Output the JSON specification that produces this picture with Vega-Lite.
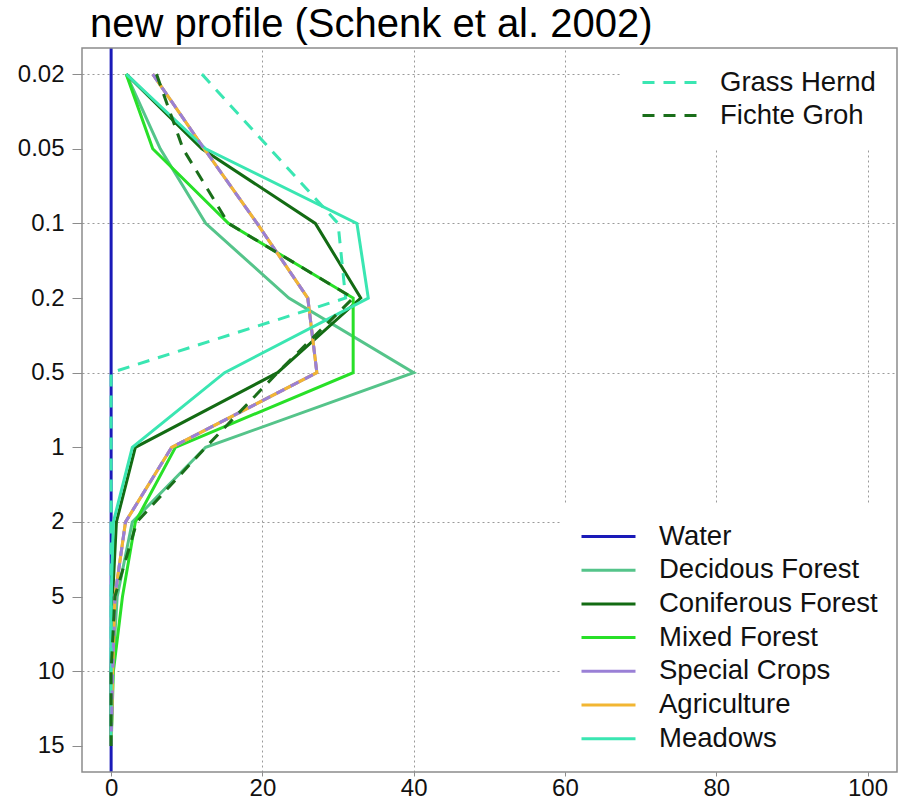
{
  "$schema": "https://vega.github.io/schema/vega-lite/v6.json",
  "autosize": {"type": "none"},
  "padding": {"left": 82, "top": 48, "right": 10, "bottom": 33},
  "width": 815,
  "height": 724,
  "title": {"text": "new profile (Schenk et al. 2002)", "anchor": "start", "frame": "group", "dx": 8, "offset": 2, "fontSize": 40, "font": "Liberation Sans", "fontWeight": "normal", "color": "#000000"},
  "data": {"values": [
    {"kind": "solid", "series": "Water", "depth": 0.02, "value": 0},
    {"kind": "solid", "series": "Water", "depth": 0.05, "value": 0},
    {"kind": "solid", "series": "Water", "depth": 0.1, "value": 0},
    {"kind": "solid", "series": "Water", "depth": 0.2, "value": 0},
    {"kind": "solid", "series": "Water", "depth": 0.5, "value": 0},
    {"kind": "solid", "series": "Water", "depth": 1, "value": 0},
    {"kind": "solid", "series": "Water", "depth": 2, "value": 0},
    {"kind": "solid", "series": "Water", "depth": 5, "value": 0},
    {"kind": "solid", "series": "Water", "depth": 10, "value": 0},
    {"kind": "solid", "series": "Water", "depth": 15, "value": 0},
    {"kind": "solid", "series": "Decidous Forest", "depth": 0.02, "value": 2},
    {"kind": "solid", "series": "Decidous Forest", "depth": 0.05, "value": 6.5},
    {"kind": "solid", "series": "Decidous Forest", "depth": 0.1, "value": 12.5},
    {"kind": "solid", "series": "Decidous Forest", "depth": 0.2, "value": 23.5},
    {"kind": "solid", "series": "Decidous Forest", "depth": 0.5, "value": 40},
    {"kind": "solid", "series": "Decidous Forest", "depth": 1, "value": 12.5},
    {"kind": "solid", "series": "Decidous Forest", "depth": 2, "value": 2.8},
    {"kind": "solid", "series": "Decidous Forest", "depth": 5, "value": 0.8},
    {"kind": "solid", "series": "Decidous Forest", "depth": 10, "value": 0.2},
    {"kind": "solid", "series": "Decidous Forest", "depth": 15, "value": 0},
    {"kind": "solid", "series": "Coniferous Forest", "depth": 0.02, "value": 2},
    {"kind": "solid", "series": "Coniferous Forest", "depth": 0.05, "value": 12},
    {"kind": "solid", "series": "Coniferous Forest", "depth": 0.1, "value": 27},
    {"kind": "solid", "series": "Coniferous Forest", "depth": 0.2, "value": 33},
    {"kind": "solid", "series": "Coniferous Forest", "depth": 0.5, "value": 22},
    {"kind": "solid", "series": "Coniferous Forest", "depth": 1, "value": 3.2},
    {"kind": "solid", "series": "Coniferous Forest", "depth": 2, "value": 0.7},
    {"kind": "solid", "series": "Coniferous Forest", "depth": 5, "value": 0.2},
    {"kind": "solid", "series": "Coniferous Forest", "depth": 10, "value": 0},
    {"kind": "solid", "series": "Coniferous Forest", "depth": 15, "value": 0},
    {"kind": "solid", "series": "Mixed Forest", "depth": 0.02, "value": 2},
    {"kind": "solid", "series": "Mixed Forest", "depth": 0.05, "value": 5.5},
    {"kind": "solid", "series": "Mixed Forest", "depth": 0.1, "value": 15.5},
    {"kind": "solid", "series": "Mixed Forest", "depth": 0.2, "value": 32},
    {"kind": "solid", "series": "Mixed Forest", "depth": 0.5, "value": 32},
    {"kind": "solid", "series": "Mixed Forest", "depth": 1, "value": 8.5},
    {"kind": "solid", "series": "Mixed Forest", "depth": 2, "value": 3.2},
    {"kind": "solid", "series": "Mixed Forest", "depth": 5, "value": 1.5},
    {"kind": "solid", "series": "Mixed Forest", "depth": 10, "value": 0.3},
    {"kind": "solid", "series": "Mixed Forest", "depth": 15, "value": 0},
    {"kind": "solid", "series": "Special Crops", "depth": 0.02, "value": 5.5},
    {"kind": "solid", "series": "Special Crops", "depth": 0.05, "value": 12.3},
    {"kind": "solid", "series": "Special Crops", "depth": 0.1, "value": 19.3},
    {"kind": "solid", "series": "Special Crops", "depth": 0.2, "value": 26},
    {"kind": "solid", "series": "Special Crops", "depth": 0.5, "value": 27.2},
    {"kind": "solid", "series": "Special Crops", "depth": 1, "value": 8},
    {"kind": "solid", "series": "Special Crops", "depth": 2, "value": 1.9},
    {"kind": "solid", "series": "Special Crops", "depth": 5, "value": 0.5},
    {"kind": "solid", "series": "Special Crops", "depth": 10, "value": 0.2},
    {"kind": "solid", "series": "Special Crops", "depth": 15, "value": 0},
    {"kind": "solid", "series": "Agriculture", "depth": 0.02, "value": 5.5},
    {"kind": "solid", "series": "Agriculture", "depth": 0.05, "value": 12.3},
    {"kind": "solid", "series": "Agriculture", "depth": 0.1, "value": 19.3},
    {"kind": "solid", "series": "Agriculture", "depth": 0.2, "value": 26},
    {"kind": "solid", "series": "Agriculture", "depth": 0.5, "value": 27.2},
    {"kind": "solid", "series": "Agriculture", "depth": 1, "value": 8},
    {"kind": "solid", "series": "Agriculture", "depth": 2, "value": 1.9},
    {"kind": "solid", "series": "Agriculture", "depth": 5, "value": 0.5},
    {"kind": "solid", "series": "Agriculture", "depth": 10, "value": 0.2},
    {"kind": "solid", "series": "Agriculture", "depth": 15, "value": 0},
    {"kind": "solid", "series": "Meadows", "depth": 0.02, "value": 2},
    {"kind": "solid", "series": "Meadows", "depth": 0.05, "value": 12.5},
    {"kind": "solid", "series": "Meadows", "depth": 0.1, "value": 32.5},
    {"kind": "solid", "series": "Meadows", "depth": 0.2, "value": 34},
    {"kind": "solid", "series": "Meadows", "depth": 0.5, "value": 15},
    {"kind": "solid", "series": "Meadows", "depth": 1, "value": 2.8},
    {"kind": "solid", "series": "Meadows", "depth": 2, "value": 0.3},
    {"kind": "solid", "series": "Meadows", "depth": 5, "value": 0},
    {"kind": "solid", "series": "Meadows", "depth": 10, "value": 0},
    {"kind": "solid", "series": "Meadows", "depth": 15, "value": 0},
    {"kind": "dashed", "series": "Grass Hernd", "depth": 0.02, "value": 12},
    {"kind": "dashed", "series": "Grass Hernd", "depth": 0.05, "value": 21},
    {"kind": "dashed", "series": "Grass Hernd", "depth": 0.1, "value": 30},
    {"kind": "dashed", "series": "Grass Hernd", "depth": 0.2, "value": 31},
    {"kind": "dashed", "series": "Grass Hernd", "depth": 0.5, "value": 0},
    {"kind": "dashed", "series": "Grass Hernd", "depth": 1, "value": 0},
    {"kind": "dashed", "series": "Grass Hernd", "depth": 2, "value": 0},
    {"kind": "dashed", "series": "Grass Hernd", "depth": 5, "value": 0},
    {"kind": "dashed", "series": "Grass Hernd", "depth": 10, "value": 0},
    {"kind": "dashed", "series": "Fichte Groh", "depth": 0.02, "value": 6},
    {"kind": "dashed", "series": "Fichte Groh", "depth": 0.05, "value": 9.5},
    {"kind": "dashed", "series": "Fichte Groh", "depth": 0.1, "value": 15.5},
    {"kind": "dashed", "series": "Fichte Groh", "depth": 0.2, "value": 32},
    {"kind": "dashed", "series": "Fichte Groh", "depth": 0.5, "value": 22},
    {"kind": "dashed", "series": "Fichte Groh", "depth": 1, "value": 12.5},
    {"kind": "dashed", "series": "Fichte Groh", "depth": 2, "value": 3.4},
    {"kind": "dashed", "series": "Fichte Groh", "depth": 5, "value": 0.5},
    {"kind": "dashed", "series": "Fichte Groh", "depth": 10, "value": 0},
    {"kind": "dashed", "series": "Fichte Groh", "depth": 15, "value": 0}
  ]},
  "layer": [
    {
      "layer": [
        {
          "transform": [{"filter": "datum.series == 'Water' && datum.depth == 0.02"}],
          "mark": {"type": "rule", "strokeWidth": 3},
          "encoding": {
            "x": {
              "field": "value", "type": "quantitative", "title": null,
              "scale": {"domain": [-3.85, 103.9], "nice": false, "zero": false},
              "axis": {"values": [0, 20, 40, 60, 80, 100], "tickSize": 4, "labelPadding": 0, "labelFontSize": 24, "labelFlush": false}
            },
            "color": {
              "field": "series", "type": "nominal",
              "scale": {
                "domain": ["Water", "Decidous Forest", "Coniferous Forest", "Mixed Forest", "Special Crops", "Agriculture", "Meadows"],
                "range": ["#1a1ab8", "#55c48a", "#136b13", "#28e028", "#9a80d6", "#f2b632", "#3ae6b2"]
              },
              "legend": {
                "orient": "bottom-right", "title": null, "offset": 0, "padding": 19, "fillColor": "white",
                "labelFontSize": 27.5, "labelColor": "#111111", "labelLimit": 400, "labelOffset": 22,
                "symbolType": "stroke", "symbolSize": 2916, "symbolStrokeWidth": 3, "clipHeight": 27, "rowPadding": 5.7, "zindex": 2
              }
            }
          }
        },
        {
          "transform": [{"filter": "datum.kind == 'solid' && datum.series != 'Water'"}],
          "mark": {"type": "line", "strokeWidth": 3},
          "encoding": {
            "x": {
              "field": "value", "type": "quantitative", "title": null,
              "scale": {"domain": [-3.85, 103.9], "nice": false, "zero": false},
              "axis": {"values": [0, 20, 40, 60, 80, 100], "tickSize": 4, "labelPadding": 0, "labelFontSize": 24, "labelFlush": false}
            },
            "y": {
              "field": "depth", "type": "ordinal", "title": null,
              "scale": {"type": "point", "padding": 0.35},
              "axis": {
                "tickSize": 10, "labelPadding": 8, "labelFontSize": 24,
                "gridOpacity": {"condition": {"test": "indexof([0.02, 0.1, 0.5, 2, 10], datum.value) >= 0", "value": 1}, "value": 0}
              }
            },
            "order": {"field": "depth", "type": "quantitative"},
            "color": {
              "field": "series", "type": "nominal",
              "scale": {
                "domain": ["Water", "Decidous Forest", "Coniferous Forest", "Mixed Forest", "Special Crops", "Agriculture", "Meadows"],
                "range": ["#1a1ab8", "#55c48a", "#136b13", "#28e028", "#9a80d6", "#f2b632", "#3ae6b2"]
              },
              "legend": {
                "orient": "bottom-right", "title": null, "offset": 0, "padding": 19, "fillColor": "white",
                "labelFontSize": 27.5, "labelColor": "#111111", "labelLimit": 400, "labelOffset": 22,
                "symbolType": "stroke", "symbolSize": 2916, "symbolStrokeWidth": 3, "clipHeight": 27, "rowPadding": 5.7, "zindex": 2
              }
            }
          }
        },
        {
          "transform": [{"filter": "datum.series == 'Special Crops'"}],
          "mark": {"type": "line", "strokeWidth": 3, "strokeDash": [9, 7], "color": "#9a80d6"},
          "encoding": {
            "x": {"field": "value", "type": "quantitative"},
            "y": {"field": "depth", "type": "ordinal"},
            "order": {"field": "depth", "type": "quantitative"}
          }
        }
      ]
    },
    {
      "transform": [{"filter": "datum.kind == 'dashed'"}],
      "mark": {"type": "line", "strokeWidth": 3, "strokeDash": [12, 9]},
      "encoding": {
        "x": {"field": "value", "type": "quantitative"},
        "y": {"field": "depth", "type": "ordinal"},
        "order": {"field": "depth", "type": "quantitative"},
        "color": {
          "field": "series", "type": "nominal",
          "scale": {"domain": ["Grass Hernd", "Fichte Groh"], "range": ["#3ae6b2", "#1a6e1a"]},
          "legend": {
            "orient": "top-right", "title": null, "offset": 0, "padding": 21, "fillColor": "white",
            "labelFontSize": 27.5, "labelColor": "#111111", "labelLimit": 400, "labelOffset": 22,
            "symbolType": "stroke", "symbolSize": 2916, "symbolStrokeWidth": 3, "symbolDash": [12, 9], "clipHeight": 27, "rowPadding": 5, "zindex": 2
          }
        }
      }
    }
  ],
  "resolve": {"scale": {"color": "independent"}},
  "config": {
    "font": "Liberation Sans",
    "view": {"stroke": "#8c8c8c", "strokeWidth": 1.5},
    "style": {"cell": {"strokeForeground": true}},
    "axis": {"zindex": 1, "domain": false, "grid": true, "gridColor": "#9a9a9a", "gridDash": [2, 3], "gridWidth": 1, "tickColor": "#8c8c8c", "tickWidth": 1, "labelColor": "#111111", "labelFont": "Liberation Sans"},
    "legend": {"labelFont": "Liberation Sans"}
  }
}
